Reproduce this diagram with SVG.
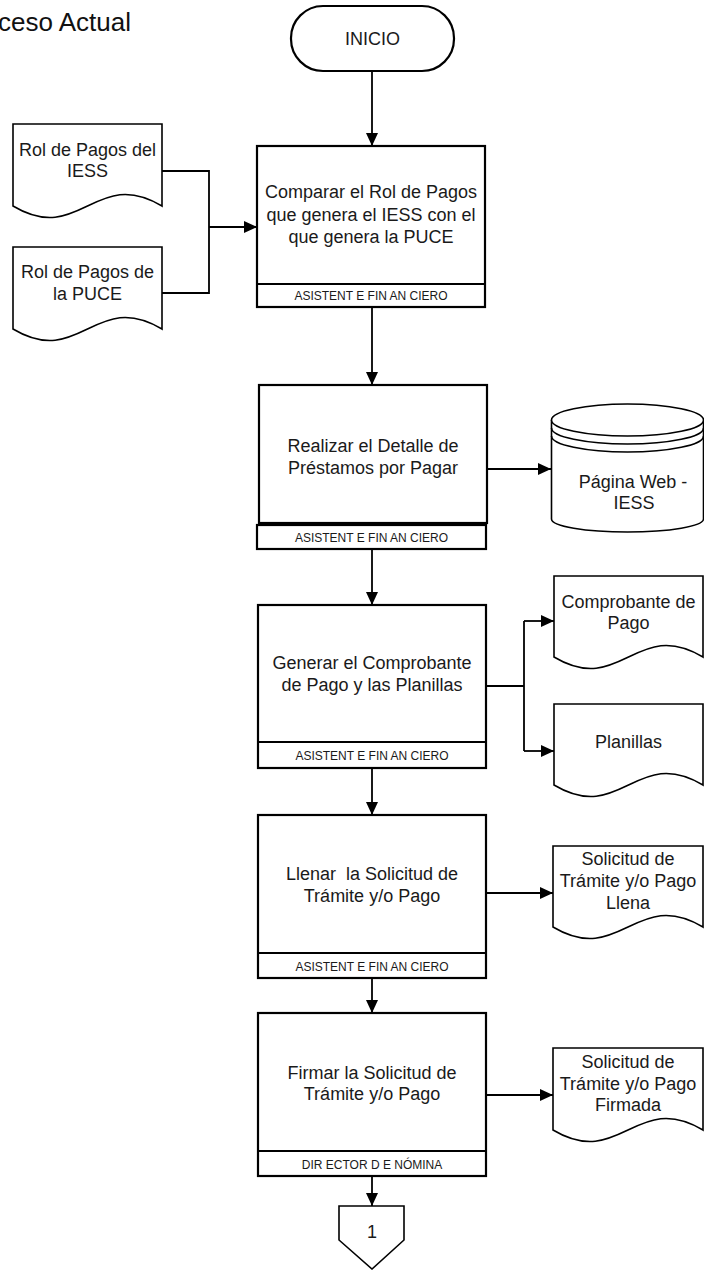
<svg xmlns="http://www.w3.org/2000/svg" width="704" height="1270" viewBox="0 0 704 1270">
  <style>
    .bg { fill: #ffffff; }
    .box { fill: #ffffff; stroke: #000000; stroke-width: 2.2; }
    .doc { fill: #ffffff; stroke: #000000; stroke-width: 1.6; }
    .arc { fill: none; stroke: #000000; stroke-width: 1.6; }
    .wire { fill: none; stroke: #000000; stroke-width: 1.8; }
    .t { font-family: "Liberation Sans", Arial, sans-serif; font-size: 18px; fill: #1a1a1a; text-anchor: middle; }
    .lane { font-family: "Liberation Sans", Arial, sans-serif; font-size: 12px; fill: #1a1a1a; text-anchor: middle; }
    .title { font-family: "Liberation Sans", Arial, sans-serif; font-size: 26px; fill: #111111; text-anchor: end; }
  </style>
  <defs>
    <marker id="arrow" markerUnits="userSpaceOnUse" markerWidth="13" markerHeight="12" refX="13" refY="6" orient="auto">
      <path d="M0,0 L13,6 L0,12 Z" fill="#000000"/>
    </marker>
  </defs>

  <rect class="bg" x="0" y="0" width="704" height="1270"/>

  <text class="title" x="131" y="31">ceso Actual</text>

  <!-- connectors -->
  <g id="connectors">
    <line class="wire" x1="372" y1="71" x2="372" y2="146" marker-end="url(#arrow)"/>
    <polyline class="wire" points="162,171 209,171 209,293 162,293"/>
    <line class="wire" x1="209" y1="227" x2="257" y2="227" marker-end="url(#arrow)"/>
    <line class="wire" x1="372" y1="307" x2="372" y2="385" marker-end="url(#arrow)"/>
    <line class="wire" x1="487" y1="469" x2="551" y2="469" marker-end="url(#arrow)"/>
    <line class="wire" x1="372" y1="549" x2="372" y2="605" marker-end="url(#arrow)"/>
    <line class="wire" x1="486" y1="686" x2="524" y2="686"/>
    <line class="wire" x1="524" y1="621" x2="524" y2="751"/>
    <line class="wire" x1="524" y1="621" x2="554" y2="621" marker-end="url(#arrow)"/>
    <line class="wire" x1="524" y1="751" x2="554" y2="751" marker-end="url(#arrow)"/>
    <line class="wire" x1="372" y1="768" x2="372" y2="815" marker-end="url(#arrow)"/>
    <line class="wire" x1="486" y1="893" x2="553" y2="893" marker-end="url(#arrow)"/>
    <line class="wire" x1="372" y1="978" x2="372" y2="1013" marker-end="url(#arrow)"/>
    <line class="wire" x1="486" y1="1095" x2="553" y2="1095" marker-end="url(#arrow)"/>
    <line class="wire" x1="372" y1="1176" x2="372" y2="1206" marker-end="url(#arrow)"/>
  </g>

  <!-- start terminal -->
  <g id="inicio">
    <rect class="box" x="291" y="6" width="163" height="65" rx="32" ry="32"/>
    <text class="t" x="372.5" y="45">INICIO</text>
  </g>

  <!-- input documents -->
  <g id="doc-rol-iess">
    <path class="doc" d="M13,124 H162 V206 C95,166 80,246 13,206 Z"/>
    <text class="t" x="87.5" y="156">Rol de Pagos del</text>
    <text class="t" x="87.5" y="177">IESS</text>
  </g>
  <g id="doc-rol-puce">
    <path class="doc" d="M13,247 H162 V329 C95,289 80,369 13,329 Z"/>
    <text class="t" x="87.5" y="278">Rol de Pagos de</text>
    <text class="t" x="87.5" y="300">la PUCE</text>
  </g>

  <!-- process 1 -->
  <g id="p-comparar">
    <rect class="box" x="257" y="146" width="228" height="161"/>
    <line class="box" x1="257" y1="284" x2="485" y2="284"/>
    <text class="t" x="371" y="198">Comparar el Rol de Pagos</text>
    <text class="t" x="371" y="221">que genera el IESS con el</text>
    <text class="t" x="371" y="243">que genera la PUCE</text>
    <text class="lane" x="371" y="299.5">ASISTENT E FIN AN CIERO</text>
  </g>

  <!-- process 2 -->
  <g id="p-detalle">
    <rect class="box" x="259" y="385" width="228" height="138"/>
    <rect class="box" x="257" y="525" width="229" height="24"/>
    <text class="t" x="373" y="452">Realizar el Detalle de</text>
    <text class="t" x="373" y="474">Préstamos por Pagar</text>
    <text class="lane" x="371.5" y="541.5">ASISTENT E FIN AN CIERO</text>
  </g>

  <!-- web page data store -->
  <g id="db-web-iess">
    <path class="doc" d="M551.5,420 V519 A76,13 0 0 0 703.5,519 V420"/>
    <ellipse class="doc" cx="627.5" cy="420" rx="76" ry="16"/>
    <path class="arc" d="M551.5,428 A76,16 0 0 0 703.5,428"/>
    <path class="arc" d="M551.5,436 A76,16 0 0 0 703.5,436"/>
    <text class="t" x="633" y="488">Página Web -</text>
    <text class="t" x="634" y="509">IESS</text>
  </g>

  <!-- process 3 -->
  <g id="p-generar">
    <rect class="box" x="258" y="605" width="228" height="163"/>
    <line class="box" x1="258" y1="742" x2="486" y2="742"/>
    <text class="t" x="372" y="669">Generar el Comprobante</text>
    <text class="t" x="372" y="691">de Pago y las Planillas</text>
    <text class="lane" x="372" y="760">ASISTENT E FIN AN CIERO</text>
  </g>

  <g id="doc-comprobante">
    <path class="doc" d="M554,576 H703 V657 C636,617 621,697 554,657 Z"/>
    <text class="t" x="628.5" y="608">Comprobante de</text>
    <text class="t" x="628.5" y="629">Pago</text>
  </g>
  <g id="doc-planillas">
    <path class="doc" d="M554,704 H703 V785 C636,745 621,825 554,785 Z"/>
    <text class="t" x="628.5" y="748">Planillas</text>
  </g>

  <!-- process 4 -->
  <g id="p-llenar">
    <rect class="box" x="258" y="815" width="228" height="163"/>
    <line class="box" x1="258" y1="953" x2="486" y2="953"/>
    <text class="t" x="372" y="880" xml:space="preserve">Llenar  la Solicitud de</text>
    <text class="t" x="372" y="902">Trámite y/o Pago</text>
    <text class="lane" x="372" y="971">ASISTENT E FIN AN CIERO</text>
  </g>

  <g id="doc-solicitud-llena">
    <path class="doc" d="M553,846 H703 V927 C636,887 620,967 553,927 Z"/>
    <text class="t" x="628" y="865">Solicitud de</text>
    <text class="t" x="628" y="887">Trámite y/o Pago</text>
    <text class="t" x="628" y="909">Llena</text>
  </g>

  <!-- process 5 -->
  <g id="p-firmar">
    <rect class="box" x="258" y="1013" width="228" height="163"/>
    <line class="box" x1="258" y1="1151" x2="486" y2="1151"/>
    <text class="t" x="372" y="1079">Firmar la Solicitud de</text>
    <text class="t" x="372" y="1100">Trámite y/o Pago</text>
    <text class="lane" x="372" y="1169">DIR ECTOR D E NÓMINA</text>
  </g>

  <g id="doc-solicitud-firmada">
    <path class="doc" d="M553,1048 H703 V1130 C636,1090 620,1170 553,1130 Z"/>
    <text class="t" x="628" y="1068">Solicitud de</text>
    <text class="t" x="628" y="1090">Trámite y/o Pago</text>
    <text class="t" x="628" y="1111">Firmada</text>
  </g>

  <!-- off-page connector -->
  <g id="connector-1">
    <polygon class="doc" points="339,1206 404,1206 404,1240 372,1269 339,1240"/>
    <text class="t" x="372" y="1238">1</text>
  </g>
</svg>
